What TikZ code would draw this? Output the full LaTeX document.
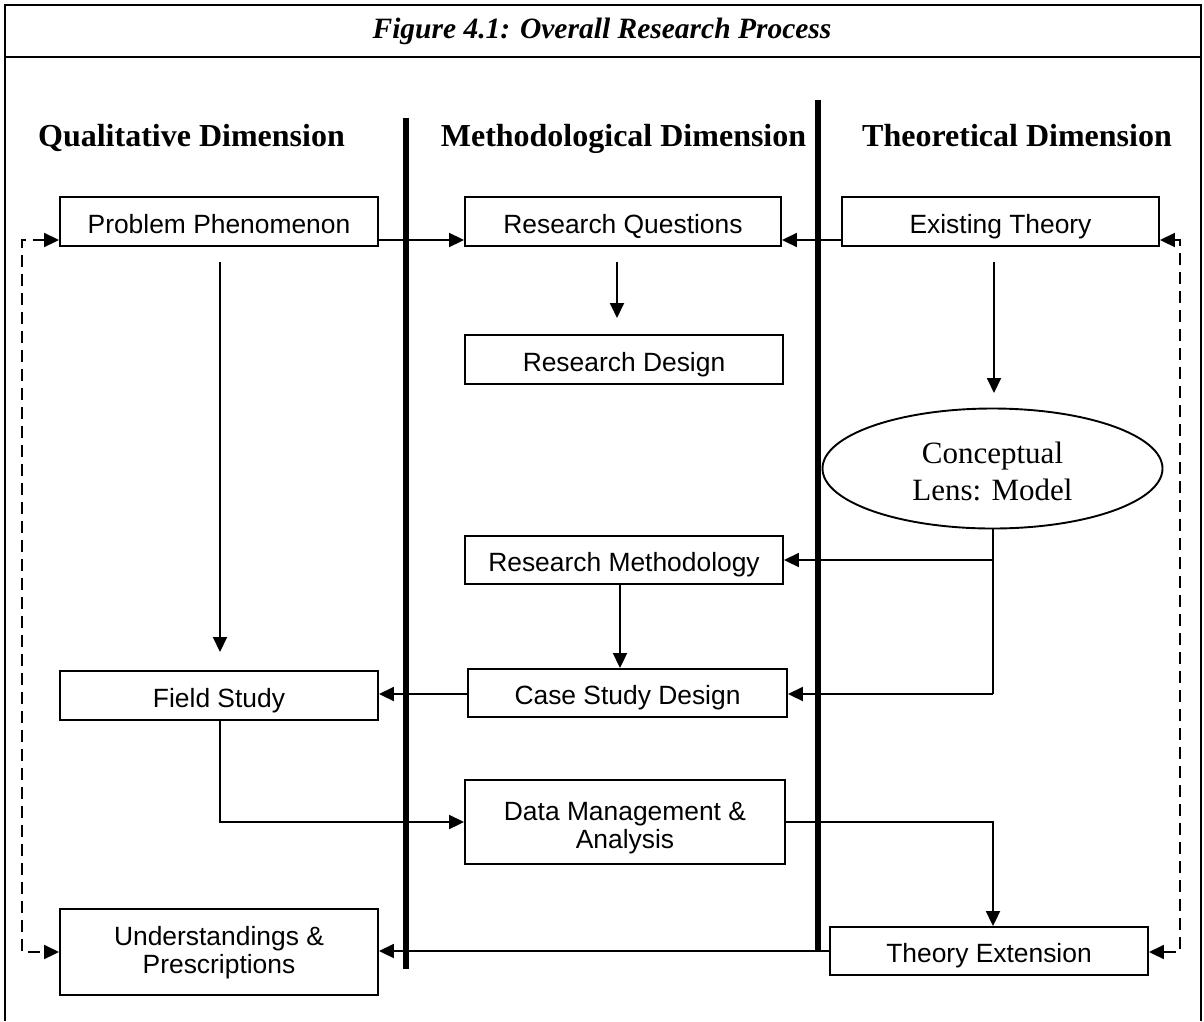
\documentclass[tikz,border=0pt]{standalone}
\usepackage{fontspec}
\setmainfont{Liberation Serif}
\newfontfamily\boxfont{Liberation Sans}
\usetikzlibrary{arrows.meta,shapes.geometric}

% label text: first baseline as reference, box height and depth fixed
\newcommand\boxtext[3]{\raisebox{0pt}[#1][#2]{\begin{tabular}[t]{@{}c@{}}#3\end{tabular}}}

\begin{document}
\begin{tikzpicture}[x=1pt,y=-1pt,
  stage/.style={draw,line width=1.9pt,inner sep=0pt,minimum height=49pt,minimum width=318pt,
    font=\boxfont\fontsize{26.4}{28}\selectfont},
  lens/.style={ellipse,draw,line width=1.9pt,inner sep=0pt,minimum width=340pt,minimum height=120pt,
    font=\fontsize{31}{37}\selectfont},
  dimhead/.style={anchor=base,font=\bfseries\fontsize{32}{36}\selectfont},
  tip/.style={-{Triangle[length=15pt,width=14pt]}},
  link/.style={line width=1.9pt,tip},
  plain/.style={line width=1.9pt},
  feedback/.style={line width=1.9pt,dash pattern=on 12pt off 7pt,
    {Triangle[length=15pt,width=14pt]}-{Triangle[length=15pt,width=14pt]}},
  divider/.style={line width=6pt},
  frame/.style={line width=2.4pt}]

\useasboundingbox (0,0) rectangle (1204,1021);

% outer frame with title row (open at the bottom)
\draw[frame] (5,1021) -- (5,5) -- (1201,5) -- (1201,1021);
\draw[frame] (5,57) -- (1201,57);
\node[anchor=base,font=\bfseries\itshape\fontsize{29.5}{32}\selectfont] (title) at (602,38) {Figure 4.1: Overall Research Process};

% column headings
\node[dimhead] (qual) at (191.5,146) {Qualitative Dimension};
\node[dimhead] (meth) at (623.5,146) {Methodological Dimension};
\node[dimhead] (theo) at (1017,146) {Theoretical Dimension};

% column dividers
\draw[divider] (406,118) -- (406,969);
\draw[divider] (818,100) -- (818,952);

% stages
\node[stage] (pp) at (219,221.5) {\boxtext{23pt}{0pt}{Problem Phenomenon}};
\node[stage,minimum width=316pt] (rq) at (623,221.5) {\boxtext{23pt}{0pt}{Research Questions}};
\node[stage,minimum width=317pt] (et) at (1000.5,221.5) {\boxtext{23pt}{0pt}{Existing Theory}};
\node[stage] (rd) at (624,359.5) {\boxtext{23pt}{0pt}{Research Design}};
\node[lens] (lens) at (992.5,468.5) {\boxtext{0pt}{11pt}{Conceptual\\Lens: Model}};
\node[stage,minimum height=48pt] (rm) at (624,560) {\boxtext{23pt}{0pt}{Research Methodology}};
\node[stage,minimum height=48pt,minimum width=319pt] (cs) at (627.5,693) {\boxtext{23pt}{0pt}{Case Study Design}};
\node[stage] (fs) at (219,695.5) {\boxtext{23pt}{0pt}{Field Study}};
\node[stage,minimum height=84pt,minimum width=320pt] (dm) at (625,822) {\boxtext{0pt}{4pt}{Data Management \&\\Analysis}};
\node[stage,minimum height=86pt] (up) at (219,952) {\boxtext{0pt}{14pt}{Understandings \&\\Prescriptions}};
\node[stage,minimum height=48pt] (te) at (989,951) {\boxtext{23pt}{0pt}{Theory Extension}};

% helper coordinates
\coordinate (yTop) at (0,240);
\coordinate (yRM) at (0,560);
\coordinate (jn) at (993,694);
\coordinate (xL) at (220,0);
\coordinate (xM) at (620,0);
\coordinate (xR) at (993,0);
\coordinate (q1) at (617,262);
\coordinate (q2) at (617,318);
\coordinate (t1) at (994,262);
\coordinate (t2) at (994,393);
\coordinate (p1) at (220,262);
\coordinate (p2) at (220,652);
\coordinate (fbL1) at (22,240);
\coordinate (fbL2) at (22,952);
\coordinate (fbR1) at (1180,240);
\coordinate (fbR2) at (1180,952);

% connectors
\draw[link] (pp.east |- yTop) -- (rq.west |- yTop);
\draw[link] (et.west |- yTop) -- (rq.east |- yTop);
\draw[link] (q1) -- (q2);
\draw[link] (t1) -- (t2);
\draw[link] (p1) -- (p2);
\draw[plain] (lens.south -| xR) -- (jn);
\draw[link] (xR |- yRM) -- (rm.east |- yRM);
\draw[link] (jn) -- (cs.east |- jn);
\draw[link] (rm.south -| xM) -- (cs.north -| xM);
\draw[link] (cs.west |- jn) -- (fs.east |- jn);
\draw[link] (fs.south -| xL) |- (dm.west);
\draw[link] (dm.east) -| (te.north -| xR);
\draw[link] (te.west) -- (up.east |- te.west);

% feedback loops
\draw[feedback] (pp.west |- yTop) -- (fbL1) -- (fbL2) -- (up.west |- fbL2);
\draw[feedback] (et.east |- yTop) -- (fbR1) -- (fbR2) -- (te.east |- fbR2);
\end{tikzpicture}
\end{document}
